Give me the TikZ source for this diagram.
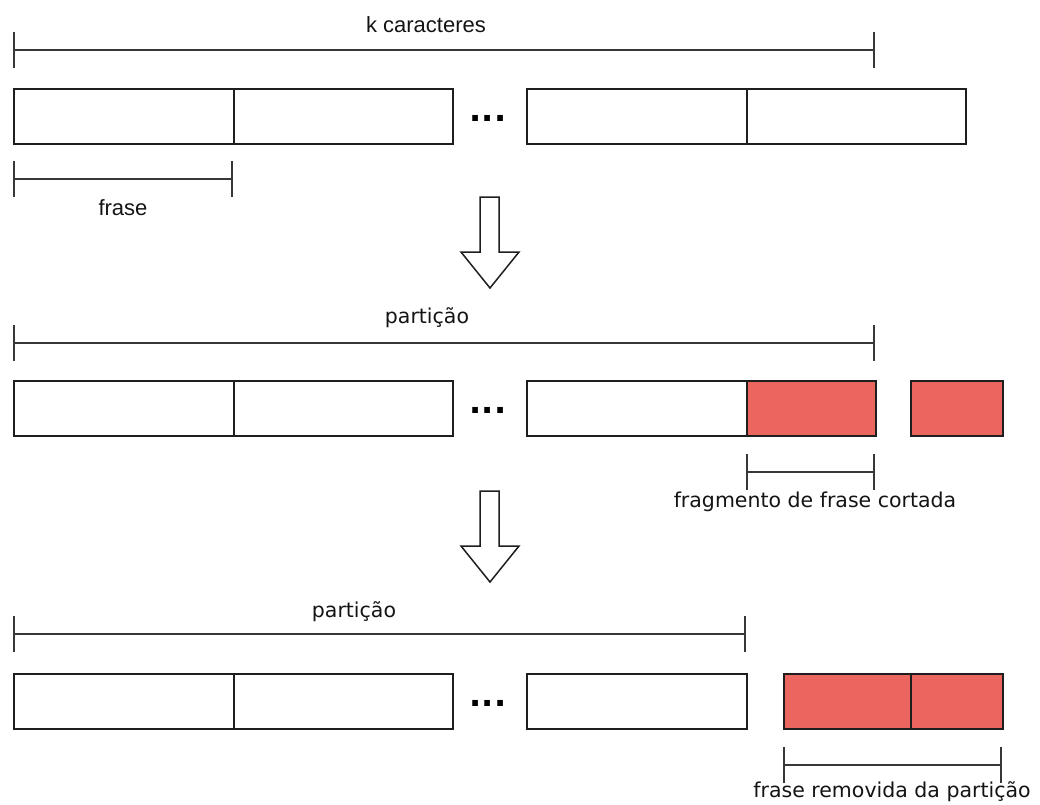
\documentclass[tikz,border=0pt]{standalone}
\usepackage{fontspec}
\setmainfont{DejaVu Sans}
\newfontfamily\arialfont{Liberation Sans}
\usetikzlibrary{arrows.meta}
\definecolor{cutred}{RGB}{234,102,94}
\definecolor{edgegray}{RGB}{30,30,30}
\definecolor{dimgray}{RGB}{55,55,55}

\begin{document}
\begin{tikzpicture}[x=1pt, y=-1pt,
  cell/.style={draw=edgegray, line width=1.5pt, fill=white, minimum width=220pt,
    minimum height=55pt, inner sep=0pt, anchor=north west},
  cut/.style={cell, fill=cutred},
  dim/.style={draw=dimgray, line width=2pt, {Bar[width=36pt]}-{Bar[width=36pt]}},
  lbl/.style={font=\fontsize{20.5}{24}\selectfont, text=black!92, inner sep=0pt, anchor=base},
  lbla/.style={font=\arialfont\fontsize{22}{26}\selectfont, text=black!92, inner sep=0pt, anchor=base},
  dots/.style={font=\bfseries\fontsize{32}{36}\selectfont, inner sep=0pt, anchor=base},
  bigarrow/.style={draw=edgegray, line width=1.5pt, fill=white, line join=miter}]
  \useasboundingbox (0,0) rectangle (1040,804);

  % first row: the whole text
  \node[cell] (a1) at (13,88) {};
  \node[cell, minimum width=219pt] (a2) at (233,88) {};
  \node[dots] (adots) at (488,121) {...};
  \node[cell] (a3) at (526,88) {};
  \node[cell, minimum width=219pt] (a4) at (746,88) {};
  \coordinate (kL) at (13,50);
  \coordinate (kR) at (875,50);
  \draw[dim] (kL) -- (kR);
  \node[lbla] (klab) at (426,32) {k caracteres};
  \coordinate (fL) at (13,179);
  \coordinate (fR) at (233,179);
  \draw[dim] (fL) -- (fR);
  \node[lbla] (flab) at (123,215) {frase};

  % arrows between rows
  \foreach \t in {197,491}
    \draw[bigarrow] (480,\t) -- (499,\t) -- (499,\t+55) -- (519,\t+55)
      -- (490,\t+91) -- (461,\t+55) -- (480,\t+55) -- cycle;

  % second row: partition cuts a phrase
  \node[cell] (b1) at (13,380) {};
  \node[cell, minimum width=219pt] (b2) at (233,380) {};
  \node[dots] (bdots) at (488,413) {...};
  \node[cell] (b3) at (526,380) {};
  \node[cut, minimum width=129pt] (b4) at (746,380) {};
  \node[cut, minimum width=92pt] (b5) at (910,380) {};
  \coordinate (pL) at (13,343);
  \coordinate (pR) at (875,343);
  \draw[dim] (pL) -- (pR);
  \node[lbl] (plab) at (427,323) {partição};
  \coordinate (gL) at (746,472);
  \coordinate (gR) at (875,472);
  \draw[dim] (gL) -- (gR);
  \node[lbl] (glab) at (815,507) {fragmento de frase cortada};

  % third row: phrase removed from partition
  \node[cell] (c1) at (13,673) {};
  \node[cell, minimum width=219pt] (c2) at (233,673) {};
  \node[dots] (cdots) at (488,706) {...};
  \node[cell] (c3) at (526,673) {};
  \node[cut, minimum width=127pt] (c4) at (783,673) {};
  \node[cut, minimum width=92pt] (c5) at (910,673) {};
  \coordinate (qL) at (13,634);
  \coordinate (qR) at (746,634);
  \draw[dim] (qL) -- (qR);
  \node[lbl] (qlab) at (354,617) {partição};
  \coordinate (rL) at (783,765);
  \coordinate (rR) at (1002,765);
  \draw[dim] (rL) -- (rR);
  \node[lbl] (rlab) at (892,797) {frase removida da partição};
\end{tikzpicture}
\end{document}
